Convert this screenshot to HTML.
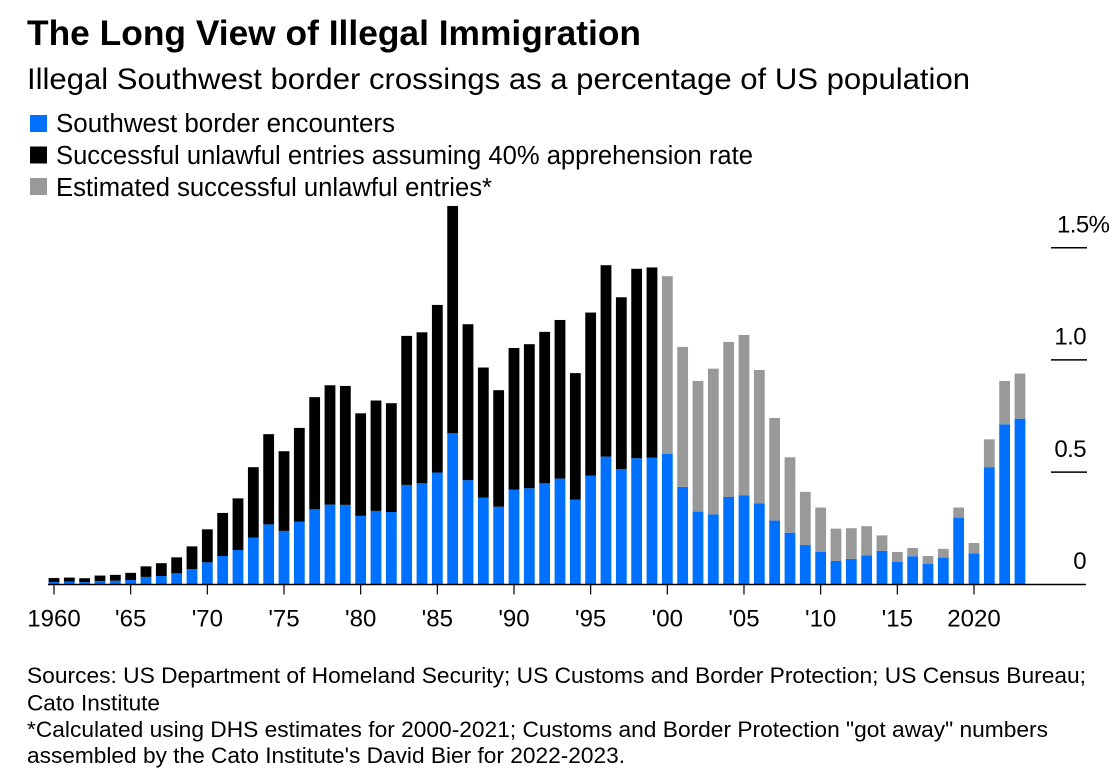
<!DOCTYPE html>
<html lang="en">
<head>
<meta charset="utf-8">
<title>The Long View of Illegal Immigration</title>
<style>
html,body{margin:0;padding:0;background:#fff;}
svg{display:block;font-family:"Liberation Sans",sans-serif;fill:#000;}
</style>
</head>
<body>
<svg id="chart" width="1115" height="775" viewBox="0 0 1115 775" xmlns="http://www.w3.org/2000/svg">
  <text x="27" y="45" font-size="35" font-weight="700" textLength="614" lengthAdjust="spacingAndGlyphs">The Long View of Illegal Immigration</text>
  <text x="27" y="89" font-size="30" textLength="943" lengthAdjust="spacingAndGlyphs">Illegal Southwest border crossings as a percentage of US population</text>

  <g font-size="25.500">
    <g>
      <rect x="30" y="115" width="17" height="17" fill="#0070ff"/>
      <text x="56" y="132" textLength="339" lengthAdjust="spacingAndGlyphs">Southwest border encounters</text>
    </g>
    <g>
      <rect x="30" y="146.500" width="17" height="17" fill="#000"/>
      <text x="56" y="164" textLength="697" lengthAdjust="spacingAndGlyphs">Successful unlawful entries assuming 40% apprehension rate</text>
    </g>
    <g>
      <rect x="30" y="178" width="17" height="17" fill="#999"/>
      <text x="56" y="196" textLength="436" lengthAdjust="spacingAndGlyphs">Estimated successful unlawful entries*</text>
    </g>
  </g>

  <g id="y-axis"></g>
  <g id="bars"></g>
  <g id="x-axis"></g>

  <g font-size="22">
    <text x="27" y="683" textLength="1059" lengthAdjust="spacingAndGlyphs">Sources: US Department of Homeland Security; US Customs and Border Protection; US Census Bureau;</text>
    <text x="27" y="710.500" textLength="133" lengthAdjust="spacingAndGlyphs">Cato Institute</text>
    <text x="27" y="737" textLength="1021" lengthAdjust="spacingAndGlyphs">*Calculated using DHS estimates for 2000-2021; Customs and Border Protection "got away" numbers</text>
    <text x="27" y="763" textLength="598" lengthAdjust="spacingAndGlyphs">assembled by the Cato Institute's David Bier for 2022-2023.</text>
  </g>
</svg>
<script>
var firstYear = 1960;
// Southwest border encounters, % of US population, 1960-2023
var encounters = [
  0.010,0.012,0.010,0.015,0.016,0.019,0.033,0.037,0.049,0.068,
  0.098,0.126,0.153,0.208,0.267,0.238,0.279,0.334,0.355,0.354,
  0.305,0.327,0.322,0.443,0.450,0.498,0.673,0.464,0.386,0.346,
  0.422,0.428,0.450,0.471,0.377,0.484,0.569,0.513,0.562,0.565,
  0.582,0.434,0.324,0.311,0.389,0.397,0.360,0.284,0.230,0.175,
  0.144,0.104,0.113,0.129,0.149,0.101,0.125,0.092,0.119,0.297,
  0.137,0.522,0.713,0.738
];
// Cumulative stack top with assumed 40% apprehension rate, 1960-1999
var assumedTotals = [
  0.028,0.030,0.027,0.039,0.042,0.051,0.080,0.094,0.120,0.169,
  0.245,0.318,0.383,0.522,0.669,0.593,0.697,0.834,0.887,0.884,
  0.762,0.819,0.807,1.107,1.123,1.245,1.686,1.159,0.966,0.865,
  1.053,1.070,1.125,1.178,0.941,1.211,1.422,1.279,1.406,1.412
];
// Cumulative stack top with estimated entries, 2000-2023
var estimatedTotals = [
  1.373,1.058,0.906,0.961,1.080,1.111,0.955,0.741,0.566,0.412,
  0.342,0.248,0.250,0.259,0.218,0.144,0.162,0.126,0.158,0.342,
  0.184,0.646,0.906,0.939
];
var xTickYears = [1960,1965,1970,1975,1980,1985,1990,1995,2000,2005,2010,2015,2020];
var xTickLabels = ["1960","'65","'70","'75","'80","'85","'90","'95","'00","'05","'10","'15","2020"];
var yTickValues = [0,0.5,1,1.5];
var yTickLabels = ["0","0.5","1.0","1.5%"];

var NS = "http://www.w3.org/2000/svg";
function x(year){ return 54 + (year - 1960) * 15.333; }
function y(value){ return 584.3 - value * 224.4; }
var barWidth = 10.8;

function make(tag, attrs, parent){
  var el = document.createElementNS(NS, tag);
  for (var k in attrs) el.setAttribute(k, attrs[k]);
  parent.appendChild(el);
  return el;
}
var barsG = document.getElementById("bars");
var xG = document.getElementById("x-axis");
var yG = document.getElementById("y-axis");

function drawBar(year, low, high, color, name){
  var r = make("rect", {x: x(year) - barWidth / 2, y: y(high), width: barWidth, height: y(low) - y(high), fill: color}, barsG);
  
  
}
encounters.forEach(function(v, i){
  var year = firstYear + i;
  drawBar(year, 0, v, "#0070ff", "bar-encounters");
});
assumedTotals.forEach(function(t, i){
  var year = firstYear + i;
  drawBar(year, encounters[i], t, "#000", "bar-assumed-entries");
});
estimatedTotals.forEach(function(t, i){
  var year = 2000 + i;
  drawBar(year, encounters[year - firstYear], t, "#999", "bar-estimated-entries");
});

yTickValues.forEach(function(v, i){
  if (v !== 0) {
    var g = make("line", {x1: 1051, x2: 1087, y1: y(v), y2: y(v), stroke: "#000", "stroke-width": 1.5}, yG);
    
    
  }
  var label = yTickLabels[i];
  var hasPct = label.indexOf("%") >= 0;
  var t = make("text", {y: y(v) - 15.200, "font-size": 24, "letter-spacing": -0.600}, yG);
  t.textContent = label;
  if (hasPct) { t.setAttribute("x", 1057); } else { t.setAttribute("x", 1086); t.setAttribute("text-anchor", "end"); }
  
  
});

var axisLine = make("line", {x1: 48, x2: 1086, y1: 584.500, y2: 584.500, stroke: "#000", "stroke-width": 1.5}, xG);



xTickYears.forEach(function(yr, i){
  var tick = make("line", {x1: x(yr), x2: x(yr), y1: 584.500, y2: 594.500, stroke: "#000", "stroke-width": 1.2}, xG);
  
  
  var t = make("text", {x: x(yr), y: 626.500, "text-anchor": "middle", "font-size": 24}, xG);
  t.textContent = xTickLabels[i];
  
  
});
</script>
</body>
</html>
